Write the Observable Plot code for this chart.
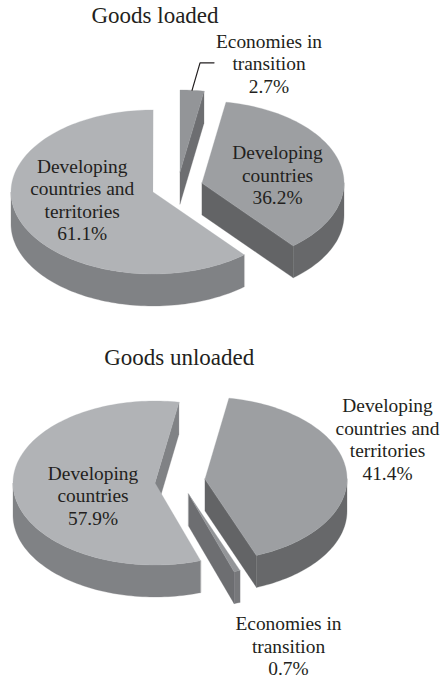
<!DOCTYPE html>
<html>
<head>
<meta charset="utf-8">
<style>
  html, body { margin: 0; padding: 0; background: #fff; }
  svg { display: block; }
</style>
<script src="https://cdn.jsdelivr.net/npm/d3@7"></script>
<script src="https://cdn.jsdelivr.net/npm/@observablehq/plot@0.6"></script>
</head>
<body>
<script>
// Shares of seaborne trade, listed clockwise around each pie.
const loadedGroups = ["Economies in\ntransition", "Developing\ncountries", "Developing\ncountries and\nterritories"];
const loadedShares = [2.7, 36.2, 61.1];
const unloadedGroups = ["Developing\ncountries and\nterritories", "Economies in\ntransition", "Developing\ncountries"];
const unloadedShares = [41.4, 0.7, 57.9];
const panelTitles = ["Goods loaded", "Goods unloaded"];

// Projection of the tilted discs.
const RX = 142, RY = 82, DEPTH = 32;
const INK = "#231f20";
const WIDTH = 442, HEIGHT = 679;

// Per-slice layout: exploded centre, shades, label centre.
const loadedLayout = {
  startAngle: 0,
  titleAt: [154.5, 15],
  slices: [
    {cx: 179.5, cy: 171.5, top: "#939598", wall: "#6d6e71", cut: "#6d6e71", labelAt: [268.5, 62.5]},
    {cx: 201.5, cy: 182.5, top: "#9d9fa2", wall: "#67686a", cut: "#636466", labelAt: [277, 174]},
    {cx: 152.5, cy: 191.5, top: "#b1b3b6", wall: "#808285", cut: "#808285", labelAt: [81.7, 199]}
  ]
};
const unloadedLayout = {
  startAngle: 9.7,
  titleAt: [178.7, 357],
  slices: [
    {cx: 204.5, cy: 478.5, top: "#9d9fa2", wall: "#67686a", cut: "#636466", labelAt: [387, 438.5]},
    {cx: 188, cy: 493.5, top: "#939598", wall: "#77787b", cut: "#6d6e71", labelAt: [288, 645]},
    {cx: 154.5, cy: 482.5, top: "#b1b3b6", wall: "#808285", cut: "#808285", labelAt: [92.5, 494.5]}
  ]
};

const rad = (deg) => deg * Math.PI / 180;
const rim = (s, deg, drop = 0) => [
  s.cx + RX * Math.sin(rad(deg)),
  s.cy - RY * Math.cos(rad(deg)) + drop
];
const arc = (s, from, to, drop = 0) => {
  const steps = Math.max(2, Math.ceil(Math.abs(to - from) / 1.5));
  return d3.range(steps + 1).map((i) => rim(s, from + (to - from) * i / steps, drop));
};

// Turns one panel's shares into the polygons of its slices, back faces first.
function slicePolygons(shares, layout, panel) {
  const rows = [];
  let angle = layout.startAngle;
  shares.forEach((share, i) => {
    const s = layout.slices[i];
    const a0 = angle, a1 = angle + share * 3.6;
    angle = a1;
    const add = (part, fill, points) => points.forEach(([x, y]) =>
      rows.push({x, y, fill, key: `${panel}-${i}-${part}`}));

    // Radial faces are seen only when they turn towards the viewer.
    const apex = [s.cx, s.cy];
    const apexLow = [s.cx, s.cy + DEPTH];
    if (Math.sin(rad(a0)) < -1e-6) add("cut0", s.cut, [apex, rim(s, a0), rim(s, a0, DEPTH), apexLow]);
    if (Math.sin(rad(a1)) > 1e-6) add("cut1", s.cut, [apex, rim(s, a1), rim(s, a1, DEPTH), apexLow]);

    // The outer wall shows along the near half of the rim only.
    const w0 = Math.max(a0, 90), w1 = Math.min(a1, 270);
    if (w1 > w0) add("wall", s.wall, [...arc(s, w0, w1), ...arc(s, w1, w0, DEPTH)]);

    add("top", s.top, [apex, ...arc(s, a0, a1)]);
  });
  return rows;
}

const labelRows = (groups, shares, layout) => groups.map((g, i) => ({
  text: `${g}\n${shares[i].toFixed(1)}%`,
  x: layout.slices[i].labelAt[0],
  y: layout.slices[i].labelAt[1]
}));

const polygons = [
  ...slicePolygons(loadedShares, loadedLayout, "loaded"),
  ...slicePolygons(unloadedShares, unloadedLayout, "unloaded")
];
const labels = [
  ...labelRows(loadedGroups, loadedShares, loadedLayout),
  ...labelRows(unloadedGroups, unloadedShares, unloadedLayout)
];
const titles = panelTitles.map((text, i) => {
  const [x, y] = [loadedLayout, unloadedLayout][i].titleAt;
  return {text, x, y};
});

// Leader from the thin loaded slice up to its label.
const [leaderX, leaderY] = rim(loadedLayout.slices[0], loadedShares[0] * 1.8);
const leader = [
  {x: leaderX, y: leaderY},
  {x: leaderX + 8, y: leaderY - 27.5},
  {x: leaderX + 22, y: leaderY - 27.5}
];

const chart = Plot.plot({
  width: WIDTH,
  height: HEIGHT,
  margin: 0,
  style: {background: "#fff"},
  x: {domain: [0, WIDTH], range: [0, WIDTH], axis: null},
  y: {domain: [0, HEIGHT], range: [0, HEIGHT], axis: null},
  marks: [
    Plot.line(polygons, {
      x: "x", y: "y", z: "key",
      fill: "fill", stroke: "fill", strokeWidth: 0.3,
      curve: "linear-closed"
    }),
    Plot.line(leader, {x: "x", y: "y", stroke: INK, strokeWidth: 1.2}),
    Plot.text(labels, {
      x: "x", y: "y", text: "text",
      fontFamily: "Liberation Serif", fontSize: 19.4, lineHeight: 1.16, fill: INK
    }),
    Plot.text(titles, {
      x: "x", y: "y", text: "text",
      fontFamily: "Liberation Serif", fontSize: 23, fill: INK
    })
  ]
});
document.body.append(chart);
</script>
</body>
</html>
